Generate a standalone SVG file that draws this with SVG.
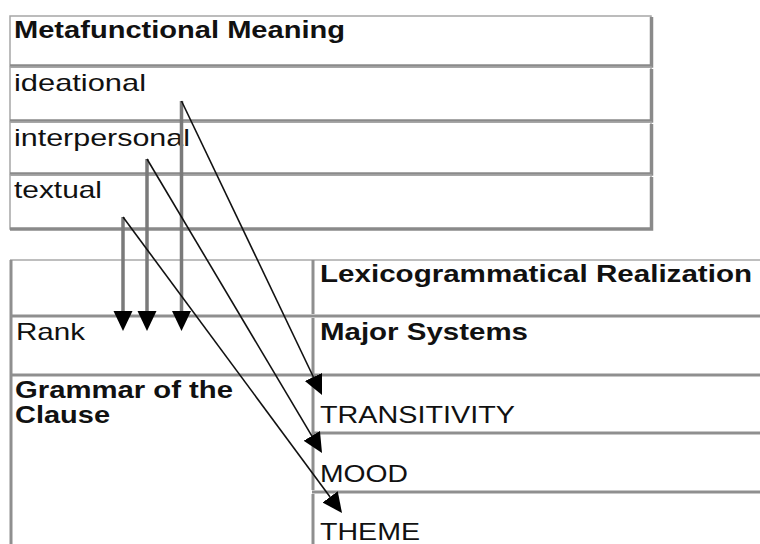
<svg xmlns="http://www.w3.org/2000/svg" width="760" height="544" viewBox="0 0 760 544">
<style>
.bg{fill:#ffffff}
.t{font-family:"Liberation Sans",Arial,Helvetica,sans-serif;font-size:24px;fill:#111}
.b{font-weight:bold}
.cell{fill:none;stroke:#a6a6a6;stroke-width:1.5}
.shadow{fill:none;stroke:#8a8a8a;stroke-width:3.5}
.grid{fill:none;stroke:#8f8f8f;stroke-width:3}
.thin{fill:none;stroke:#a8a8a8;stroke-width:1.5}
.shaft{stroke:#7a7a7a;stroke-width:3.5;fill:none}
.diag{stroke:#111;stroke-width:1.6;fill:none}
</style>
<defs>
<marker id="head" markerUnits="userSpaceOnUse" markerWidth="24" markerHeight="24" viewBox="0 -12 24 24" refX="0" refY="0" orient="auto">
<path d="M0,-9.5 L20,0 L0,9.5 z" fill="#000"/>
</marker>
</defs>
<rect class="bg" x="0" y="0" width="760" height="544"/>

<g id="table-metafunction">
<g id="row-heading">
<rect class="cell" x="10" y="16" width="641" height="50"/>
<path class="shadow" d="M651.5,17 V66 H10"/>
<text class="t b" x="14" y="38" textLength="331" lengthAdjust="spacingAndGlyphs">Metafunctional Meaning</text>
</g>
<g id="row-ideational">
<rect class="cell" x="10" y="67" width="641" height="54"/>
<path class="shadow" d="M651.5,69 V121 H10"/>
<text class="t" x="14" y="91" textLength="132" lengthAdjust="spacingAndGlyphs">ideational</text>
</g>
<g id="row-interpersonal">
<rect class="cell" x="10" y="122" width="641" height="52"/>
<path class="shadow" d="M651.5,124 V174 H10"/>
<text class="t" x="14" y="146" textLength="176" lengthAdjust="spacingAndGlyphs">interpersonal</text>
</g>
<g id="row-textual">
<rect class="cell" x="10" y="175" width="641" height="54"/>
<path class="shadow" d="M651.5,177 V229 H10"/>
<text class="t" x="14" y="198" textLength="88" lengthAdjust="spacingAndGlyphs">textual</text>
</g>
</g>

<g id="table-realization">
<path class="thin" d="M10,260 H760"/>
<path class="grid" d="M10,316 H760 M10,375 H760 M312,433 H760 M312,492 H760"/>
<path class="grid" d="M11,260 V544"/>
<path class="grid" d="M313,260 V314 M313,318 V490 M313,494 V544"/>
<g id="cell-lexico">
<text class="t b" x="320" y="282" textLength="432" lengthAdjust="spacingAndGlyphs">Lexicogrammatical Realization</text>
</g>
<g id="cell-rank">
<text class="t" x="16" y="340" textLength="69" lengthAdjust="spacingAndGlyphs">Rank</text>
</g>
<g id="cell-major">
<text class="t b" x="320" y="340" textLength="208" lengthAdjust="spacingAndGlyphs">Major Systems</text>
</g>
<g id="cell-grammar">
<text class="t b" x="15" y="398" textLength="218" lengthAdjust="spacingAndGlyphs">Grammar of the</text>
<text class="t b" x="15" y="423" textLength="95" lengthAdjust="spacingAndGlyphs">Clause</text>
</g>
<g id="cell-transitivity">
<text class="t" x="320" y="423" textLength="195" lengthAdjust="spacingAndGlyphs">TRANSITIVITY</text>
</g>
<g id="cell-mood">
<text class="t" x="320" y="482" textLength="88" lengthAdjust="spacingAndGlyphs">MOOD</text>
</g>
<g id="cell-theme">
<text class="t" x="320" y="540" textLength="100" lengthAdjust="spacingAndGlyphs">THEME</text>
</g>
</g>

<g id="connectors">
<line class="shaft" x1="123" y1="217" x2="123" y2="311" marker-end="url(#head)"/>
<line class="shaft" x1="147" y1="159" x2="147" y2="311" marker-end="url(#head)"/>
<line class="shaft" x1="181.5" y1="101" x2="181.5" y2="311" marker-end="url(#head)"/>
<line class="diag" x1="181.5" y1="101" x2="313.4" y2="377" marker-end="url(#head)"/>
<line class="diag" x1="147" y1="159" x2="311.8" y2="435.8" marker-end="url(#head)"/>
<line class="diag" x1="123" y1="217" x2="330.1" y2="496.9" marker-end="url(#head)"/>
</g>
</svg>
